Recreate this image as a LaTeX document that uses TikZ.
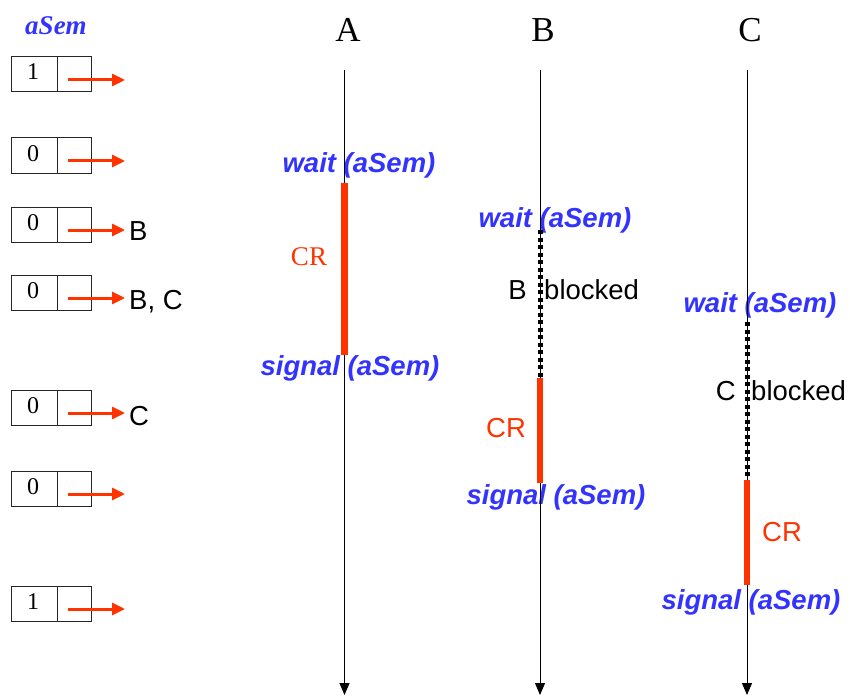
\documentclass[tikz,border=0pt]{standalone}
\usepackage{fontspec}
\setmainfont{Liberation Serif}
\setsansfont{Liberation Sans}
\usetikzlibrary{arrows.meta}
\definecolor{semblue}{HTML}{3333FF}
\definecolor{crred}{HTML}{FF3300}
\tikzset{
 callt/.style={font=\sffamily\bfseries\itshape\fontsize{27.5}{30}\selectfont, text=semblue, inner sep=0pt, anchor=base},
 sanslab/.style={font=\sffamily\fontsize{27.5}{30}\selectfont, inner sep=0pt, anchor=base},
 procname/.style={font=\fontsize{35}{40}\selectfont, inner sep=0pt, anchor=base},
 timeline/.style={line width=1pt, -{Triangle[length=12pt,width=10pt]}},
 crbar/.style={line width=6.5pt, crred},
 blockbar/.style={line width=5pt, dash pattern=on 4pt off 3.5pt},
 valcell/.style={draw=black!85, line width=1pt, minimum width=46pt, minimum height=35pt, inner sep=0pt, outer sep=0pt, anchor=north west},
 ptrcell/.style={valcell, minimum width=34pt},
 ptr/.style={crred, line width=3pt, -{Triangle[length=13pt,width=12pt]}},
 digit/.style={font=\fontsize{24}{26}\selectfont, inner sep=0pt, anchor=base},
}
\begin{document}
\begin{tikzpicture}[x=1pt,y=-1pt]
\useasboundingbox (0,0) rectangle (850,695);

% semaphore title
\node[font=\bfseries\itshape\fontsize{27}{30}\selectfont, text=semblue, inner sep=0pt, anchor=base] (title) at (56,35) {aSem};

% semaphore states
\foreach \i/\t/\v in {1/57/1, 2/138/0, 3/207/0, 4/275/0, 5/390/0, 6/471/0, 7/586/1}{
  \node[valcell] (val\i) at (11,\t) {};
  \node[ptrcell] (cell\i) at (57,\t) {};
  \node[digit] (dig\i) at (33,\t+23) {\v};
  \coordinate (ps\i) at (68,\t+23);
  \coordinate (pe\i) at (125,\t+23);
  \draw[ptr] (ps\i) -- (pe\i);
}
\node[sanslab, anchor=base west] (q3) at (129,240) {B};
\node[sanslab, anchor=base west] (q4) at (129,309) {B, C};
\node[sanslab, anchor=base west] (q5) at (129,425) {C};

% process names
\node[procname] (hA) at (348,42) {A};
\node[procname] (hB) at (543,42) {B};
\node[procname] (hC) at (750,42) {C};

% texts
\node[callt] (waitA) at (359,172) {wait (aSem)};
\node[callt] (sigA) at (350,375) {signal (aSem)};
\node[font=\fontsize{27}{30}\selectfont, text=crred, inner sep=0pt, anchor=base] (crA) at (309,265) {CR};

\node[callt] (waitB) at (555,227) {wait (aSem)};
\node[sanslab, anchor=base east] (bB) at (527,299) {B};
\node[sanslab, anchor=base west] (blB) at (544,299) {blocked};
\node[sanslab, text=crred] (crB) at (506,437) {CR};
\node[callt] (sigB) at (556,504) {signal (aSem)};

\node[callt] (waitC) at (760,312) {wait (aSem)};
\node[sanslab, anchor=base east] (cC) at (736,400) {C};
\node[sanslab, anchor=base west] (blC) at (751,400) {blocked};
\node[sanslab, text=crred] (crC) at (782,541) {CR};
\node[callt] (sigC) at (751,609) {signal (aSem)};

% timelines
\coordinate (Atop) at (344.5,70); \coordinate (Abot) at (344.5,695);
\coordinate (Btop) at (540,70);   \coordinate (Bbot) at (540,695);
\coordinate (Ctop) at (747,70);   \coordinate (Cbot) at (747,695);
\draw[timeline] (Atop) -- (Abot);
\draw[timeline] (Btop) -- (Bbot);
\draw[timeline] (Ctop) -- (Cbot);

% A
\coordinate (A1) at (344.5,183); \coordinate (A2) at (344.5,355);
\draw[crbar] (A1) -- (A2);
% B
\coordinate (B0) at (540,230); \coordinate (B1) at (540,378); \coordinate (B2) at (540,483);
\draw[blockbar] (B0) -- (B1);
\draw[crbar] (B1) -- (B2);
% C
\coordinate (C0) at (747,322); \coordinate (C1) at (747,480); \coordinate (C2) at (747,585);
\draw[blockbar] (C0) -- (C1);
\draw[crbar] (C1) -- (C2);
\end{tikzpicture}
\end{document}
